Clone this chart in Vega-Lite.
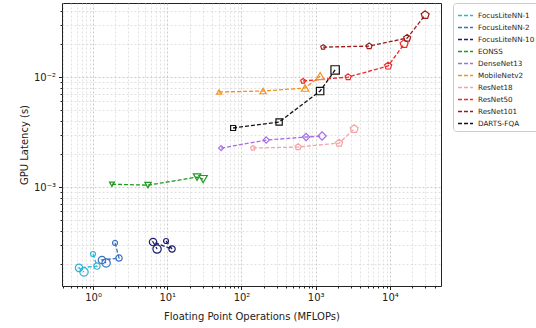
{
  "$schema": "https://vega.github.io/schema/vega-lite/v6.json",
  "autosize": "none",
  "width": 379,
  "height": 283,
  "padding": {"left": 62, "top": 3, "right": 95, "bottom": 42},
  "background": "white",
  "config": {
    "font": "DejaVu Sans",
    "view": {"stroke": "#222222", "strokeWidth": 1},
    "axis": {
      "domain": false,
      "labelFont": "DejaVu Sans",
      "titleFont": "DejaVu Sans",
      "labelFontSize": 10,
      "titleFontSize": 10,
      "titleFontWeight": "normal",
      "labelColor": "#222222",
      "titleColor": "#222222",
      "tickColor": "#222222",
      "gridDash": [2, 2],
      "gridWidth": 0.7
    }
  },
  "resolve": {"legend": {"color": "independent", "shape": "independent", "size": "independent"}},
  "data": {
    "values": [
      {"model": "FocusLiteNN-1", "flops": 1.0, "latency": 0.000246, "step": 1},
      {"model": "FocusLiteNN-1", "flops": 1.13, "latency": 0.000191, "step": 2},
      {"model": "FocusLiteNN-1", "flops": 0.648, "latency": 0.000184, "step": 3},
      {"model": "FocusLiteNN-1", "flops": 0.756, "latency": 0.000169, "step": 4},
      {"model": "FocusLiteNN-2", "flops": 1.98, "latency": 0.00031, "step": 1},
      {"model": "FocusLiteNN-2", "flops": 2.24, "latency": 0.000226, "step": 2},
      {"model": "FocusLiteNN-2", "flops": 1.32, "latency": 0.000217, "step": 3},
      {"model": "FocusLiteNN-2", "flops": 1.5, "latency": 0.000204, "step": 4},
      {"model": "FocusLiteNN-10", "flops": 9.63, "latency": 0.000323, "step": 1},
      {"model": "FocusLiteNN-10", "flops": 11.6, "latency": 0.000273, "step": 2},
      {"model": "FocusLiteNN-10", "flops": 6.44, "latency": 0.000316, "step": 3},
      {"model": "FocusLiteNN-10", "flops": 7.29, "latency": 0.000273, "step": 4},
      {"model": "EONSS", "flops": 1.8, "latency": 0.00106, "step": 1},
      {"model": "EONSS", "flops": 5.51, "latency": 0.00104, "step": 2},
      {"model": "EONSS", "flops": 25.2, "latency": 0.00123, "step": 3},
      {"model": "EONSS", "flops": 30.4, "latency": 0.00118, "step": 4},
      {"model": "DenseNet13", "flops": 53.1, "latency": 0.00226, "step": 1},
      {"model": "DenseNet13", "flops": 215, "latency": 0.00267, "step": 2},
      {"model": "DenseNet13", "flops": 742, "latency": 0.00285, "step": 3},
      {"model": "DenseNet13", "flops": 1219, "latency": 0.00291, "step": 4},
      {"model": "MobileNetv2", "flops": 49.9, "latency": 0.00731, "step": 1},
      {"model": "MobileNetv2", "flops": 195, "latency": 0.00746, "step": 2},
      {"model": "MobileNetv2", "flops": 719, "latency": 0.00794, "step": 3},
      {"model": "MobileNetv2", "flops": 1146, "latency": 0.0102, "step": 4},
      {"model": "ResNet18", "flops": 143, "latency": 0.00226, "step": 1},
      {"model": "ResNet18", "flops": 579, "latency": 0.00231, "step": 2},
      {"model": "ResNet18", "flops": 2066, "latency": 0.00251, "step": 3},
      {"model": "ResNet18", "flops": 3296, "latency": 0.00337, "step": 4},
      {"model": "ResNet50", "flops": 676, "latency": 0.0092, "step": 1},
      {"model": "ResNet50", "flops": 2734, "latency": 0.01, "step": 2},
      {"model": "ResNet50", "flops": 9460, "latency": 0.0126, "step": 3},
      {"model": "ResNet50", "flops": 15530, "latency": 0.02, "step": 4},
      {"model": "ResNet101", "flops": 1259, "latency": 0.0187, "step": 1},
      {"model": "ResNet101", "flops": 5245, "latency": 0.0191, "step": 2},
      {"model": "ResNet101", "flops": 17060, "latency": 0.0226, "step": 3},
      {"model": "ResNet101", "flops": 29800, "latency": 0.0366, "step": 4},
      {"model": "DARTS-FQA", "flops": 77.1, "latency": 0.00344, "step": 1},
      {"model": "DARTS-FQA", "flops": 321, "latency": 0.0039, "step": 2},
      {"model": "DARTS-FQA", "flops": 1146, "latency": 0.00746, "step": 3},
      {"model": "DARTS-FQA", "flops": 1825, "latency": 0.0116, "step": 4}
    ]
  },
  "encoding": {
    "x": {
      "field": "flops",
      "type": "quantitative",
      "title": "Floating Point Operations (MFLOPs)",
      "scale": {"type": "log", "domain": [0.382, 48700], "nice": false},
      "axis": {
        "values": [0.4,0.5,0.6,0.7,0.8,0.9,1,2,3,4,5,6,7,8,9,10,20,30,40,50,60,70,80,90,100,200,300,400,500,600,700,800,900,1000,2000,3000,4000,5000,6000,7000,8000,9000,10000,20000,30000,40000],
        "labelExpr": "datum.value===1?'10⁰':datum.value===10?'10¹':datum.value===100?'10²':datum.value===1000?'10³':datum.value===10000?'10⁴':''",
        "labelOverlap": false,
        "labelFlush": false,
        "labelPadding": 3,
        "titlePadding": 9,
        "tickSize": {"condition": {"test": "indexof([1,10,100,1000,10000], datum.value) >= 0", "value": 3.5}, "value": 2},
        "gridColor": {"condition": {"test": "indexof([1,10,100,1000,10000], datum.value) >= 0", "value": "#b5b5b5"}, "value": "#d5d5d5"}
      }
    },
    "y": {
      "field": "latency",
      "type": "quantitative",
      "title": "GPU Latency (s)",
      "scale": {"type": "log", "domain": [0.0001259, 0.0471], "nice": false},
      "axis": {
        "values": [0.0002,0.0003,0.0004,0.0005,0.0006,0.0007,0.0008,0.0009,0.001,0.002,0.003,0.004,0.005,0.006,0.007,0.008,0.009,0.01,0.02,0.03,0.04],
        "labelExpr": "datum.value===0.01?'10⁻²':datum.value===0.001?'10⁻³':''",
        "labelOverlap": false,
        "labelFlush": false,
        "labelPadding": 3,
        "titlePadding": 4,
        "tickSize": {"condition": {"test": "datum.value===0.01 || datum.value===0.001", "value": 3.5}, "value": 2},
        "gridColor": {"condition": {"test": "datum.value===0.01 || datum.value===0.001", "value": "#b5b5b5"}, "value": "#d5d5d5"}
      }
    },
    "color": {
      "field": "model",
      "type": "nominal",
      "scale": {
        "domain": ["FocusLiteNN-1","FocusLiteNN-2","FocusLiteNN-10","EONSS","DenseNet13","MobileNetv2","ResNet18","ResNet50","ResNet101","DARTS-FQA"],
        "range": ["#2bb5d5","#3a72c4","#1c1c6e","#1f9a1f","#a56ee6","#f5921e","#f4a3a8","#ee2a2a","#9a1a1a","#111111"]
      }
    }
  },
  "layer": [
    {
      "mark": {"type": "line", "strokeDash": [4, 2], "strokeWidth": 1.3},
      "encoding": {
        "detail": {"field": "model"},
        "order": {"field": "step"},
        "color": {
          "field": "model",
          "type": "nominal",
          "legend": {
            "title": null,
            "orient": "none",
            "legendX": 391,
            "legendY": 0,
            "symbolType": "stroke",
            "symbolSize": 225,
            "symbolStrokeWidth": 1.5,
            "symbolDash": [4, 2],
            "labelFontSize": 7.2,
            "labelFont": "DejaVu Sans",
            "labelColor": "#222222",
            "labelOffset": 4,
            "rowPadding": -4.6,
            "padding": 4,
            "strokeColor": "#cccccc",
            "fillColor": "white",
            "cornerRadius": 3
          }
        }
      }
    },
    {
      "mark": {"type": "point", "filled": false, "strokeWidth": 1.2, "opacity": 1},
      "encoding": {
        "color": {"field": "model", "type": "nominal", "legend": null},
        "shape": {
          "field": "model",
          "type": "nominal",
          "legend": null,
          "scale": {
            "domain": ["FocusLiteNN-1","FocusLiteNN-2","FocusLiteNN-10","EONSS","DenseNet13","MobileNetv2","ResNet18","ResNet50","ResNet101","DARTS-FQA"],
            "range": ["circle","circle","circle","triangle-down","diamond","triangle-up","M0,-1L0.951,-0.309L0.588,0.809L-0.588,0.809L-0.951,-0.309Z","M0,-1L0.951,-0.309L0.588,0.809L-0.588,0.809L-0.951,-0.309Z","M0,-1L0.951,-0.309L0.588,0.809L-0.588,0.809L-0.951,-0.309Z","square"]
          }
        },
        "size": {
          "field": "step",
          "type": "ordinal",
          "legend": null,
          "scale": {"range": [25, 70, 140, 230]}
        }
      }
    }
  ]
}
